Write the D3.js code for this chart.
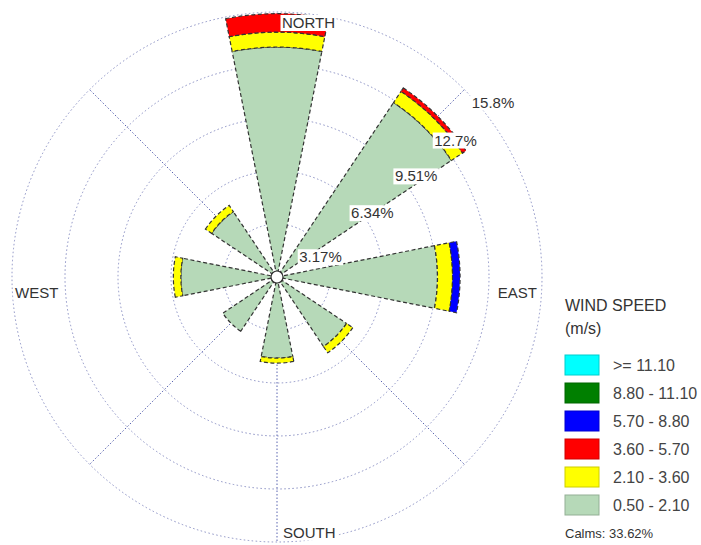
<!DOCTYPE html>
<html>
<head>
<meta charset="utf-8">
<script src="https://cdn.jsdelivr.net/npm/d3@7"></script>
<style>
  html, body { margin: 0; padding: 0; background: #fff; }
  svg { display: block; font-family: "Liberation Sans", Arial, sans-serif; }
</style>
</head>
<body>
<svg id="rose" width="701" height="545"></svg>
<script>
// Wind directions (clockwise from north)
const directions = ["N", "NE", "E", "SE", "S", "SW", "W", "NW"];
const directionLabels = ["NORTH", "EAST", "SOUTH", "WEST"];
// Guide spokes drawn across the rose
const spokeDirections = ["N", "NE", "SE", "S", "SW", "NW"];

// Speed classes, lowest first (m/s)
const speedClasses = ["0.50 - 2.10", "2.10 - 3.60", "3.60 - 5.70", "5.70 - 8.80", "8.80 - 11.10", ">= 11.10"];
const speedColors  = ["#b6d9b8", "#ffff00", "#ff0000", "#0000ff", "#007f00", "#00ffff"];

// Frequency (%) per direction for each speed class
const freq_050_210  = [13.75, 12.55, 9.60, 5.00, 4.85, 3.90, 5.75, 4.70];
const freq_210_360  = [0.90, 0.80, 0.90, 0.45, 0.30, 0.00, 0.45, 0.45];
const freq_360_570  = [1.10, 0.25, 0.00, 0.00, 0.00, 0.00, 0.00, 0.00];
const freq_570_880  = [0.00, 0.00, 0.45, 0.00, 0.00, 0.00, 0.00, 0.00];
const freq_880_1110 = [0, 0, 0, 0, 0, 0, 0, 0];
const freq_ge_1110  = [0, 0, 0, 0, 0, 0, 0, 0];

// Frequency rings
const ringValues = [3.17, 6.34, 9.51, 12.68, 15.85];
const ringLabels = ["3.17%", "6.34%", "9.51%", "12.7%", "15.8%"];

const calmsText = "Calms: 33.62%";

// ---------------------------------------------------------------
const svg = d3.select("#rose");
const cx = 277, cy = 277, R = 265, calmR = 6;
const halfWidth = 11.25 * Math.PI / 180;

const r = d3.scaleLinear().domain([0, d3.max(ringValues)]).range([0, R]);
const angle = d3.scalePoint().domain(directions).range([0, 315]); // degrees clockwise from north

const g = svg.append("g").attr("transform", `translate(${cx},${cy})`);

// Rings
g.append("g").selectAll("circle").data(ringValues).join("circle")
  .attr("r", d => r(d))
  .attr("fill", "none")
  .attr("stroke", "#8a90c4")
  .attr("stroke-width", 1)
  .attr("stroke-dasharray", "1.5,2.5");

// Spokes
g.append("g").selectAll("line").data(spokeDirections).join("line")
  .attr("x1", 0).attr("y1", 0)
  .attr("x2", d => R * Math.sin(angle(d) * Math.PI / 180))
  .attr("y2", d => -R * Math.cos(angle(d) * Math.PI / 180))
  .attr("stroke", "#5a64b0")
  .attr("stroke-width", 1)
  .attr("stroke-dasharray", "1.5,2");

// Stacked petals
const table = directions.map((d, i) => ({
  dir: d,
  [speedClasses[0]]: freq_050_210[i],
  [speedClasses[1]]: freq_210_360[i],
  [speedClasses[2]]: freq_360_570[i],
  [speedClasses[3]]: freq_570_880[i],
  [speedClasses[4]]: freq_880_1110[i],
  [speedClasses[5]]: freq_ge_1110[i]
}));
const series = d3.stack().keys(speedClasses)(table);
const color = d3.scaleOrdinal().domain(speedClasses).range(speedColors);

const arc = d3.arc()
  .innerRadius(d => Math.max(calmR, r(d[0])))
  .outerRadius(d => Math.max(calmR, r(d[1])))
  .startAngle(d => angle(d.data.dir) * Math.PI / 180 - halfWidth)
  .endAngle(d => angle(d.data.dir) * Math.PI / 180 + halfWidth);

g.append("g").selectAll("g").data(series).join("g")
  .attr("fill", s => color(s.key))
  .selectAll("path")
  .data(s => s.filter(d => d[1] - d[0] > 0))
  .join("path")
  .attr("d", arc)
  .attr("stroke", "#333")
  .attr("stroke-width", 1.2)
  .attr("stroke-dasharray", "4,2.5");

// Calm circle
g.append("circle").attr("r", calmR)
  .attr("fill", "#fff").attr("stroke", "#333").attr("stroke-width", 1.2);

// Text with a white backing box
function boxedText(parent, x, y, text, opts) {
  const grp = parent.append("g");
  const rect = grp.append("rect").attr("fill", "#fff");
  const t = grp.append("text")
    .attr("x", x).attr("y", y)
    .attr("text-anchor", opts.anchor || "start")
    .attr("font-size", opts.size)
    .attr("fill", opts.fill || "#333")
    .text(text);
  const b = t.node().getBBox();
  rect.attr("x", b.x - 1.5).attr("y", b.y + 1).attr("width", b.width + 3).attr("height", b.height - 1);
  return grp;
}

// Ring labels along the upper-right diagonal
const labelAngles = [25, 34, 36, 37.5, 39];   // degrees above east
const labelOffsets = [-5, 9, 13, 13, 13];     // px beyond the ring
ringValues.forEach((v, i) => {
  const a = labelAngles[i] * Math.PI / 180;
  const rr = r(v) + labelOffsets[i];
  boxedText(g, rr * Math.cos(a), -rr * Math.sin(a) + 5.5, ringLabels[i], { anchor: "middle", size: 15 });
});

// Compass labels
boxedText(g, 5, -R + 16, directionLabels[0], { anchor: "start", size: 15 });
boxedText(g, R - 5, 20.5, directionLabels[1], { anchor: "end", size: 15 });
boxedText(g, 6, R - 4.5, directionLabels[2], { anchor: "start", size: 15 });
boxedText(g, -R + 3, 20.5, directionLabels[3], { anchor: "start", size: 15 });

// Legend
const lg = svg.append("g").attr("transform", "translate(565,0)");
lg.append("text").attr("x", 0).attr("y", 311).attr("font-size", 16).attr("fill", "#333").text("WIND SPEED");
lg.append("text").attr("x", 0).attr("y", 334).attr("font-size", 16).attr("fill", "#333").text("(m/s)");

const legendOrder = speedClasses.slice().reverse();
const ly = d3.scaleBand().domain(legendOrder).range([355, 355 + 28 * legendOrder.length]);
const rows = lg.selectAll("g.row").data(legendOrder).join("g").attr("class", "row")
  .attr("transform", d => `translate(0,${ly(d)})`);
rows.append("rect")
  .attr("width", 34).attr("height", 20)
  .attr("fill", d => color(d))
  .attr("stroke", d => d3.color(color(d)).darker(0.6))
  .attr("stroke-width", 1);
rows.append("text")
  .attr("x", 48).attr("y", 15.5)
  .attr("font-size", 16).attr("fill", "#444")
  .text(d => d);

lg.append("text").attr("x", 0).attr("y", 538).attr("font-size", 13).attr("fill", "#333").text(calmsText);
</script>
</body>
</html>
